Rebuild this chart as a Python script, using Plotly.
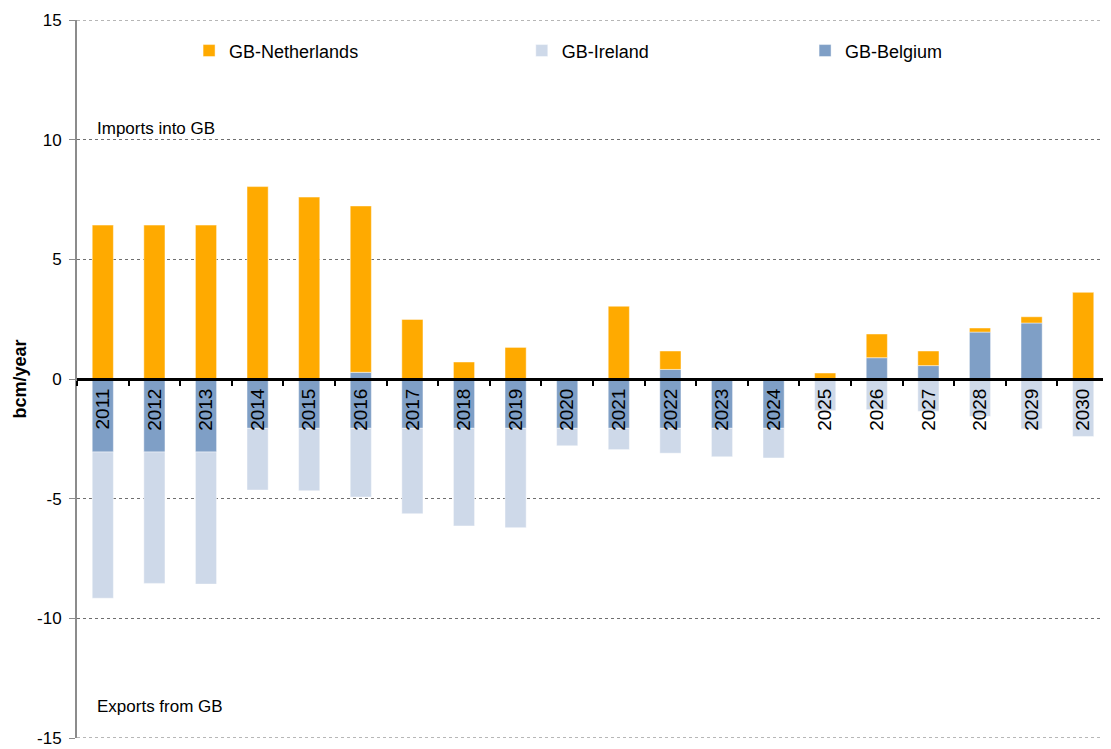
import plotly.graph_objects as go

years = [str(y) for y in range(2011, 2031)]
netherlands = [6.43, 6.43, 6.43, 8.04, 7.6, 6.95, 2.49, 0.71, 1.32, None,
               3.04, 0.77, None, None, 0.25, 0.99, 0.61, 0.17, 0.26, 3.62]
belgium_imports = [None, None, None, None, None, 0.28, None, None, None, None,
                   None, 0.4, None, None, None, 0.89, 0.56, 1.96, 2.34, None]
belgium_exports = [-3.05, -3.05, -3.05, -2.06, -2.06, -2.06, -2.06, -2.06, -2.06, -2.06,
                   -2.06, -2.06, -2.06, -2.06, None, None, None, None, None, None]
ireland = [-6.11, -5.49, -5.52, -2.58, -2.61, -2.87, -3.57, -4.08, -4.15, -0.73,
           -0.89, -1.04, -1.19, -1.24, -1.32, -1.28, -1.35, -1.56, -2.08, -2.4]
y_ticks = [-15, -10, -5, 0, 5, 10, 15]
y_tick_labels = ["-15", "-10", "-5", "0", "5", "10", "15"]

C_NL = "#FFAA00"
C_BE = "#7F9FC6"
C_IE = "#CED9E9"
FONT = "Arial, Liberation Sans, sans-serif"
edge = dict(color="rgba(255,255,255,0.45)", width=1)

# page body has an 8px default margin; figure sized to fit the window
W, H = 1103, 741
L, R, T, B = 69, 2, 12, 11
plot_w = W - L - R

fig = go.Figure()
fig.add_trace(go.Bar(x=years, y=belgium_imports, marker=dict(color=C_BE, line=edge),
                     showlegend=False, name="GB-Belgium", legend="legend3"))
fig.add_trace(go.Bar(x=years, y=belgium_exports, marker=dict(color=C_BE, line=edge),
                     name="GB-Belgium", legend="legend3"))
fig.add_trace(go.Bar(x=years, y=netherlands, marker=dict(color=C_NL, line=edge),
                     name="GB-Netherlands", legend="legend"))
fig.add_trace(go.Bar(x=years, y=ireland, marker=dict(color=C_IE, line=edge),
                     name="GB-Ireland", legend="legend2"))

leg_common = dict(orientation="h", yanchor="middle", y=0.957, xanchor="left",
                  font=dict(family=FONT, size=18, color="black"),
                  bgcolor="rgba(0,0,0,0)", itemwidth=30)

fig.update_layout(
    width=W, height=H,
    margin=dict(l=L, r=R, t=T, b=B, autoexpand=False),
    plot_bgcolor="white", paper_bgcolor="white",
    showlegend=True,
    barmode="relative", bargap=0.59,
    font=dict(family=FONT, size=16, color="black"),
    legend=dict(x=0.1086, **leg_common),
    legend2=dict(x=0.431, **leg_common),
    legend3=dict(x=0.7055, **leg_common),
    xaxis=dict(type="category", anchor="free", position=0.5, side="bottom",
               automargin=False,
               showline=True, linecolor="black", linewidth=3,
               ticks="outside", tickson="boundaries", ticklen=5, tickwidth=2, tickcolor="black",
               tickangle=-90, tickfont=dict(family=FONT, size=19, color="black"),
               showgrid=False, zeroline=False, range=[-0.5, 19.5]),
    yaxis=dict(range=[-15, 15], tickvals=y_ticks, ticktext=y_tick_labels, automargin=False,
               showline=True, linecolor="#8C8C8C", linewidth=2,
               ticks="outside", ticklen=6, tickwidth=1, tickcolor="#8C8C8C",
               ticklabelstandoff=4,
               tickfont=dict(family=FONT, size=17, color="black"),
               showgrid=True, gridcolor="#6F6F6F", gridwidth=1, griddash="dot",
               zeroline=False,
               title=dict(text="<b>bcm/year</b>", font=dict(family=FONT, size=18, color="black"),
                          standoff=6)),
    annotations=[
        dict(text="Imports into GB", x=(95 - 77) / plot_w, xref="paper", y=10, yref="y",
             showarrow=False, xanchor="left", yanchor="bottom",
             font=dict(family=FONT, size=17, color="black")),
        dict(text="Exports from GB", x=(95 - 77) / plot_w, xref="paper", y=-13.7, yref="y",
             showarrow=False, xanchor="left", yanchor="middle",
             font=dict(family=FONT, size=17, color="black")),
    ],
    shapes=[
        dict(type="line", xref="paper", x0=0, x1=1, yref="y", y0=v, y1=v,
             line=dict(color="#6F6F6F", width=1, dash="dot"), layer="below")
        for v in (y_ticks[0], y_ticks[-1])
    ],
)

fig.write_html("out.html")
